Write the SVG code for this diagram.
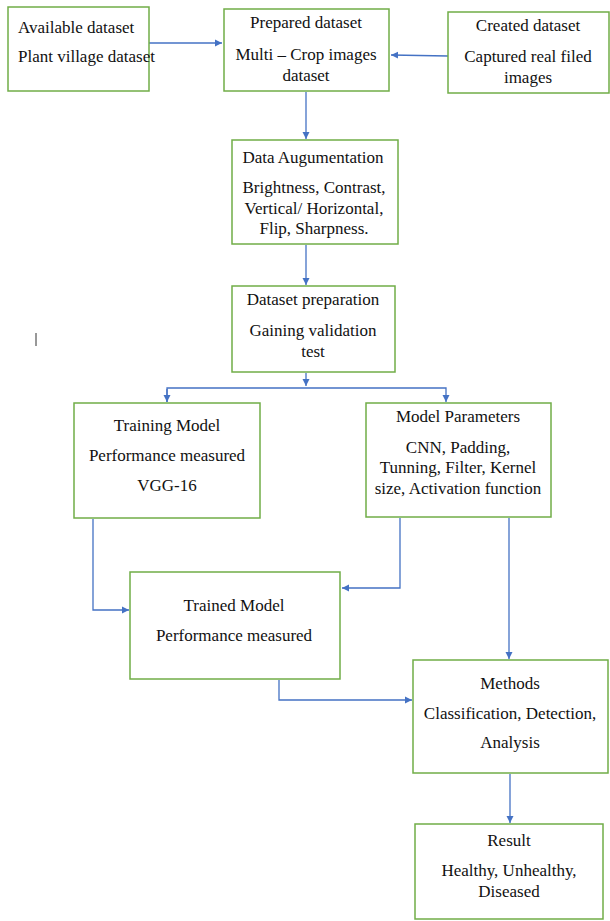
<svg xmlns="http://www.w3.org/2000/svg" width="610" height="921" viewBox="0 0 610 921">
<style>
.box{fill:#fff;stroke:#70AD47;stroke-width:1.5}
.t{font-family:"Liberation Serif","Times New Roman",serif;font-size:17px;fill:#111;text-anchor:middle}
.l{text-anchor:start}
.c{fill:none;stroke:#4472C4;stroke-width:1.3}
</style>
<defs>
<marker id="ah" markerWidth="8" markerHeight="8" refX="7" refY="4" orient="auto" markerUnits="userSpaceOnUse">
<path d="M0,0.5 L7,4 L0,7.5 Z" fill="#4472C4"/>
</marker>
</defs>
<rect width="610" height="921" fill="#fff"/>
<g id="connectors">
<line class="c" x1="149" y1="43" x2="222" y2="43" marker-end="url(#ah)"/>
<line class="c" x1="448" y1="56" x2="391" y2="55" marker-end="url(#ah)"/>
<line class="c" x1="306" y1="92" x2="306" y2="139" marker-end="url(#ah)"/>
<line class="c" x1="306" y1="245" x2="306" y2="285" marker-end="url(#ah)"/>
<line class="c" x1="306" y1="373" x2="306" y2="386" marker-end="url(#ah)"/>
<polyline class="c" points="167,402 167,388 446,388 446,402" marker-end="url(#ah)"/>
<line class="c" x1="167" y1="389" x2="167" y2="402" marker-end="url(#ah)"/>
<polyline class="c" points="93,519 93,610 129,610" marker-end="url(#ah)"/>
<polyline class="c" points="400,518 400,588 342,588" marker-end="url(#ah)"/>
<line class="c" x1="509" y1="518" x2="509" y2="659" marker-end="url(#ah)"/>
<polyline class="c" points="279,680 279,700 412,700" marker-end="url(#ah)"/>
<line class="c" x1="510" y1="774" x2="510" y2="823" marker-end="url(#ah)"/>
</g>
<g id="available">
<rect class="box" x="8" y="7" width="141" height="84"/>
<text class="t l" x="18" y="33">Available dataset</text>
<text class="t l" x="18" y="62">Plant village dataset</text>
</g>
<g id="prepared">
<rect class="box" x="224" y="9" width="165" height="82"/>
<text class="t" x="306" y="28">Prepared dataset</text>
<text class="t" x="306" y="60">Multi – Crop images</text>
<text class="t" x="306" y="81">dataset</text>
</g>
<g id="created">
<rect class="box" x="448" y="12" width="161" height="81"/>
<text class="t" x="528" y="31">Created dataset</text>
<text class="t" x="528" y="62">Captured real filed</text>
<text class="t" x="528" y="83">images</text>
</g>
<g id="augmentation">
<rect class="box" x="232" y="140" width="166" height="104"/>
<text class="t" x="313" y="163">Data Augumentation</text>
<text class="t" x="314" y="193">Brightness, Contrast,</text>
<text class="t" x="314" y="214">Vertical/ Horizontal,</text>
<text class="t" x="314" y="234">Flip, Sharpness.</text>
</g>
<g id="preparation">
<rect class="box" x="232" y="286" width="163" height="86"/>
<text class="t" x="313" y="305">Dataset preparation</text>
<text class="t" x="313" y="336">Gaining validation</text>
<text class="t" x="313" y="357">test</text>
</g>
<g id="training">
<rect class="box" x="74" y="403" width="186" height="115"/>
<text class="t" x="167" y="431">Training Model</text>
<text class="t" x="167" y="461">Performance measured</text>
<text class="t" x="167" y="491">VGG-16</text>
</g>
<g id="parameters">
<rect class="box" x="366" y="403" width="185" height="114"/>
<text class="t" x="458" y="422">Model Parameters</text>
<text class="t" x="458" y="453">CNN, Padding,</text>
<text class="t" x="458" y="473">Tunning, Filter, Kernel</text>
<text class="t" x="458" y="494">size, Activation function</text>
</g>
<g id="trained">
<rect class="box" x="130" y="572" width="210" height="107"/>
<text class="t" x="234" y="611">Trained Model</text>
<text class="t" x="234" y="641">Performance measured</text>
</g>
<g id="methods">
<rect class="box" x="413" y="660" width="195" height="113"/>
<text class="t" x="510" y="689">Methods</text>
<text class="t" x="510" y="719">Classification, Detection,</text>
<text class="t" x="510" y="748">Analysis</text>
</g>
<g id="result">
<rect class="box" x="415" y="824" width="188" height="95"/>
<text class="t" x="509" y="846">Result</text>
<text class="t" x="509" y="876">Healthy, Unhealthy,</text>
<text class="t" x="509" y="897">Diseased</text>
</g>
<line x1="36" y1="333" x2="36" y2="346" stroke="#333" stroke-width="1"/>
</svg>
